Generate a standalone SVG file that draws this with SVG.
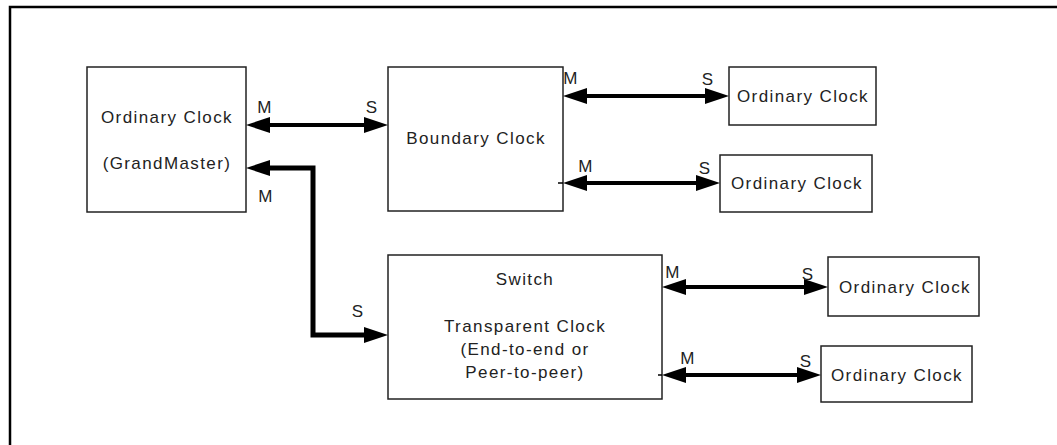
<svg xmlns="http://www.w3.org/2000/svg" width="1057" height="445" viewBox="0 0 1057 445">
  <defs>
    <style>
      .box { fill: #ffffff; stroke: #222222; stroke-width: 1.5; }
      .lbl { font-family: "Liberation Sans", Arial, sans-serif; font-size: 17px; letter-spacing: 1.4px; fill: #222222; text-anchor: middle; }
      .con { fill: none; stroke: #000000; stroke-width: 4; }
      .thick { stroke-width: 5; stroke-linejoin: miter; }
      .frame { fill: none; stroke: #000000; stroke-width: 2.5; }
    </style>
    <marker id="ah" markerUnits="userSpaceOnUse" markerWidth="26" markerHeight="18" refX="0" refY="8" orient="auto-start-reverse" viewBox="0 0 26 18">
      <path d="M0,0 L24,8 L0,16 Z" fill="#000000"/>
    </marker>
  </defs>
  <rect width="1057" height="445" fill="#ffffff"/>
  <path class="frame" d="M10,447 L10,7 L1059,7"/>

  <g id="grandmaster">
    <rect class="box" x="87" y="67" width="159" height="145"/>
    <text class="lbl" x="167" y="123">Ordinary Clock</text>
    <text class="lbl" x="167" y="169">(GrandMaster)</text>
  </g>
  <g id="boundary">
    <rect class="box" x="388" y="67" width="175" height="144"/>
    <text class="lbl" x="476" y="144">Boundary Clock</text>
  </g>
  <g id="oc1">
    <rect class="box" x="729" y="67" width="147" height="58"/>
    <text class="lbl" x="803" y="102">Ordinary Clock</text>
  </g>
  <g id="oc2">
    <rect class="box" x="720" y="155" width="152" height="57"/>
    <text class="lbl" x="797" y="189">Ordinary Clock</text>
  </g>
  <g id="switch">
    <rect class="box" x="388" y="255" width="274" height="144"/>
    <text class="lbl" x="525" y="285">Switch</text>
    <text class="lbl" x="525" y="332">Transparent Clock</text>
    <text class="lbl" x="525" y="355">(End-to-end  or</text>
    <text class="lbl" x="525" y="378">Peer-to-peer)</text>
  </g>
  <g id="oc3">
    <rect class="box" x="828" y="257" width="151" height="59"/>
    <text class="lbl" x="905" y="293">Ordinary Clock</text>
  </g>
  <g id="oc4">
    <rect class="box" x="821" y="346" width="151" height="56"/>
    <text class="lbl" x="897" y="381">Ordinary Clock</text>
  </g>

  <g id="connectors">
    <path class="con" d="M270,125 L364,125" marker-start="url(#ah)" marker-end="url(#ah)"/>
    <path class="con thick" d="M270,168 L313,168 L313,335 L364,335" marker-start="url(#ah)" marker-end="url(#ah)"/>
    <path class="con" d="M587,96 L705,96" marker-start="url(#ah)" marker-end="url(#ah)"/>
    <path class="con" d="M587,183 L696,183" marker-start="url(#ah)" marker-end="url(#ah)"/>
    <path class="con" d="M686,287 L804,287" marker-start="url(#ah)" marker-end="url(#ah)"/>
    <path class="con" d="M686,375 L797,375" marker-start="url(#ah)" marker-end="url(#ah)"/>
    <path d="M558,183 L563,183 M658,375 L662,375" stroke="#000" stroke-width="1.5"/>

    <text class="lbl" x="265" y="113">M</text>
    <text class="lbl" x="372" y="113">S</text>
    <text class="lbl" x="266" y="202">M</text>
    <text class="lbl" x="358" y="317">S</text>
    <text class="lbl" x="571" y="84">M</text>
    <text class="lbl" x="708" y="85">S</text>
    <text class="lbl" x="586" y="172">M</text>
    <text class="lbl" x="705" y="174">S</text>
    <text class="lbl" x="673" y="278">M</text>
    <text class="lbl" x="808" y="280">S</text>
    <text class="lbl" x="688" y="364">M</text>
    <text class="lbl" x="806" y="367">S</text>
  </g>
</svg>
